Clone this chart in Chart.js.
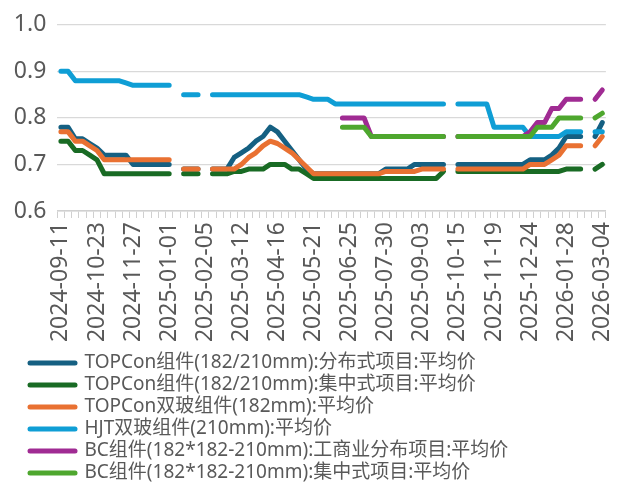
<!DOCTYPE html>
<html>
<head>
<meta charset="utf-8">
<script src="https://cdn.jsdelivr.net/npm/chart.js@4/dist/chart.umd.min.js"></script>
<style>
html, body { margin: 0; padding: 0; background: #fff; }
#grafico-precios { display: block; }
</style>
</head>
<body>
<canvas id="grafico-precios" width="634" height="484"></canvas>
<script>
'use strict';

// Fechas semanales (sin las semanas de fiesta nacional)
const fechas = [
    '2024-09-11', '2024-09-18', '2024-09-25', '2024-10-09', '2024-10-16', '2024-10-23', '2024-10-30', '2024-11-06', '2024-11-13', '2024-11-20',
    '2024-11-27', '2024-12-04', '2024-12-11', '2024-12-18', '2024-12-25', '2025-01-01', '2025-01-08', '2025-01-15', '2025-01-22', '2025-01-29',
    '2025-02-05', '2025-02-12', '2025-02-19', '2025-02-26', '2025-03-05', '2025-03-12', '2025-03-19', '2025-03-26', '2025-04-02', '2025-04-09',
    '2025-04-16', '2025-04-23', '2025-04-30', '2025-05-07', '2025-05-14', '2025-05-21', '2025-05-28', '2025-06-04', '2025-06-11', '2025-06-18',
    '2025-06-25', '2025-07-02', '2025-07-09', '2025-07-16', '2025-07-23', '2025-07-30', '2025-08-06', '2025-08-13', '2025-08-20', '2025-08-27',
    '2025-09-03', '2025-09-10', '2025-09-17', '2025-09-24', '2025-10-08', '2025-10-15', '2025-10-22', '2025-10-29', '2025-11-05', '2025-11-12',
    '2025-11-19', '2025-11-26', '2025-12-03', '2025-12-10', '2025-12-17', '2025-12-24', '2025-12-31', '2026-01-07', '2026-01-14', '2026-01-21',
    '2026-01-28', '2026-02-04', '2026-02-11', '2026-02-18', '2026-02-25', '2026-03-04'
];

const topconDistribuido = [
    0.78, 0.78, 0.755, 0.755, 0.745, 0.735, 0.72, 0.72, 0.72, 0.72,
    0.70, 0.70, 0.70, 0.70, 0.70, 0.70, null, 0.69, 0.69, 0.69,
    null, 0.69, 0.69, 0.69, 0.715, 0.725, 0.735, 0.75, 0.76, 0.78,
    0.77, 0.75, 0.73, 0.71, 0.69, 0.68, 0.68, 0.68, 0.68, 0.68,
    0.68, 0.68, 0.68, 0.68, 0.68, 0.69, 0.69, 0.69, 0.69, 0.70,
    0.70, 0.70, 0.70, 0.70, null, 0.70, 0.70, 0.70, 0.70, 0.70,
    0.70, 0.70, 0.70, 0.70, 0.70, 0.71, 0.71, 0.71, 0.72, 0.735,
    0.76, 0.76, 0.76, null, 0.76, 0.79
];

const topconCentralizado = [
    0.75, 0.75, 0.73, 0.73, 0.72, 0.71, 0.68, 0.68, 0.68, 0.68,
    0.68, 0.68, 0.68, 0.68, 0.68, 0.68, null, 0.68, 0.68, 0.68,
    null, 0.68, 0.68, 0.68, 0.685, 0.685, 0.69, 0.69, 0.69, 0.70,
    0.70, 0.70, 0.69, 0.69, 0.68, 0.67, 0.67, 0.67, 0.67, 0.67,
    0.67, 0.67, 0.67, 0.67, 0.67, 0.67, 0.67, 0.67, 0.67, 0.67,
    0.67, 0.67, 0.67, 0.685, null, 0.685, 0.685, 0.685, 0.685, 0.685,
    0.685, 0.685, 0.685, 0.685, 0.685, 0.685, 0.685, 0.685, 0.685, 0.685,
    0.69, 0.69, 0.69, null, 0.69, 0.70
];

const topconBifacial = [
    0.77, 0.77, 0.75, 0.75, 0.74, 0.73, 0.71, 0.71, 0.71, 0.71,
    0.71, 0.71, 0.71, 0.71, 0.71, 0.71, null, 0.69, 0.69, 0.69,
    null, 0.69, 0.69, 0.69, 0.69, 0.70, 0.715, 0.725, 0.74, 0.75,
    0.745, 0.735, 0.725, 0.71, 0.695, 0.68, 0.68, 0.68, 0.68, 0.68,
    0.68, 0.68, 0.68, 0.68, 0.68, 0.685, 0.685, 0.685, 0.685, 0.685,
    0.69, 0.69, 0.69, 0.69, null, 0.69, 0.69, 0.69, 0.69, 0.69,
    0.69, 0.69, 0.69, 0.69, 0.69, 0.70, 0.70, 0.70, 0.71, 0.72,
    0.74, 0.74, 0.74, null, 0.74, 0.76
];

const hjtBifacial = [
    0.90, 0.90, 0.88, 0.88, 0.88, 0.88, 0.88, 0.88, 0.88, 0.875,
    0.87, 0.87, 0.87, 0.87, 0.87, 0.87, null, 0.85, 0.85, 0.85,
    null, 0.85, 0.85, 0.85, 0.85, 0.85, 0.85, 0.85, 0.85, 0.85,
    0.85, 0.85, 0.85, 0.85, 0.845, 0.84, 0.84, 0.84, 0.83, 0.83,
    0.83, 0.83, 0.83, 0.83, 0.83, 0.83, 0.83, 0.83, 0.83, 0.83,
    0.83, 0.83, 0.83, 0.83, null, 0.83, 0.83, 0.83, 0.83, 0.83,
    0.78, 0.78, 0.78, 0.78, 0.78, 0.76, 0.76, 0.76, 0.76, 0.76,
    0.77, 0.77, 0.77, null, 0.77, 0.77
];

const bcComercial = [
    null, null, null, null, null, null, null, null, null, null,
    null, null, null, null, null, null, null, null, null, null,
    null, null, null, null, null, null, null, null, null, null,
    null, null, null, null, null, null, null, null, null, 0.80,
    0.80, 0.80, 0.80, 0.76, 0.76, 0.76, 0.76, 0.76, 0.76, 0.76,
    0.76, 0.76, 0.76, 0.76, null, 0.76, 0.76, 0.76, 0.76, 0.76,
    0.76, 0.76, 0.76, 0.76, 0.76, 0.77, 0.79, 0.79, 0.82, 0.82,
    0.84, 0.84, 0.84, null, 0.84, 0.86
];

const bcCentralizado = [
    null, null, null, null, null, null, null, null, null, null,
    null, null, null, null, null, null, null, null, null, null,
    null, null, null, null, null, null, null, null, null, null,
    null, null, null, null, null, null, null, null, null, 0.78,
    0.78, 0.78, 0.78, 0.76, 0.76, 0.76, 0.76, 0.76, 0.76, 0.76,
    0.76, 0.76, 0.76, 0.76, null, 0.76, 0.76, 0.76, 0.76, 0.76,
    0.76, 0.76, 0.76, 0.76, 0.76, 0.76, 0.78, 0.78, 0.78, 0.80,
    0.80, 0.80, 0.80, null, 0.80, 0.81
];

const series = [
    { label: 'TOPCon组件(182/210mm):分布式项目:平均价', datos: topconDistribuido, color: '#156082' },
    { label: 'TOPCon组件(182/210mm):集中式项目:平均价', datos: topconCentralizado, color: '#196B24' },
    { label: 'TOPCon双玻组件(182mm):平均价', datos: topconBifacial, color: '#E97132' },
    { label: 'HJT双玻组件(210mm):平均价', datos: hjtBifacial, color: '#0F9ED5' },
    { label: 'BC组件(182*182-210mm):工商业分布项目:平均价', datos: bcComercial, color: '#A02B93' },
    { label: 'BC组件(182*182-210mm):集中式项目:平均价', datos: bcCentralizado, color: '#4EA72E' }
];

const fuente = '"Noto Sans", "Noto Sans CJK SC", sans-serif';
const colorTexto = '#595959';

// Desplaza la leyenda a la derecha sin mover el eje Y
const moverLeyenda = {
    id: 'moverLeyenda',
    afterLayout(chart) {
        chart.legend.left = 27;
    }
};

const ctx = document.getElementById('grafico-precios').getContext('2d');

new Chart(ctx, {
    type: 'line',
    data: {
        labels: fechas,
        datasets: series.map((s, i) => ({
            label: s.label,
            data: s.datos,
            borderColor: s.color,
            backgroundColor: s.color,
            borderWidth: 5,
            borderCapStyle: 'round',
            borderJoinStyle: 'round',
            pointRadius: 0,
            pointHoverRadius: 0,
            fill: false,
            tension: 0,
            spanGaps: false,
            // las últimas series se dibujan encima, como en Excel
            order: series.length - i
        }))
    },
    plugins: [moverLeyenda],
    options: {
        responsive: false,
        animation: false,
        devicePixelRatio: 1,
        events: [],
        layout: { padding: { left: 6, right: 17, top: 14, bottom: -8.5 } },
        plugins: {
            tooltip: { enabled: false },
            legend: {
                position: 'bottom',
                align: 'start',
                labels: {
                    font: { family: fuente, size: 19 },
                    color: colorTexto,
                    padding: 3,
                    usePointStyle: true,
                    pointStyle: 'line',
                    pointStyleWidth: 45,
                    sort: (a, b) => a.datasetIndex - b.datasetIndex,
                    generateLabels: chart => Chart.defaults.plugins.legend.labels.generateLabels(chart).map(l => ({
                        ...l,
                        lineWidth: 5,
                        lineCap: 'round',
                        strokeStyle: chart.data.datasets[l.datasetIndex].borderColor
                    }))
                }
            }
        },
        scales: {
            x: {
                offset: true,
                grid: { offset: true, drawOnChartArea: false, drawTicks: true, tickLength: 7, color: '#d0d0d0', lineWidth: 1 },
                border: { display: true, color: '#d0d0d0', width: 1.5 },
                ticks: {
                    autoSkip: false,
                    maxRotation: 90,
                    minRotation: 90,
                    padding: 4,
                    color: colorTexto,
                    font: { family: fuente, size: 23 },
                    callback: function (valor, indice) {
                        return indice % 5 === 0 ? this.getLabelForValue(valor) : '';
                    }
                },
                afterFit: escala => { escala.height = 139.5; }
            },
            y: {
                min: 0.6,
                max: 1.0,
                grid: { color: '#d9d9d9', lineWidth: 1.3, drawTicks: false },
                border: { display: false },
                ticks: {
                    stepSize: 0.1,
                    padding: 11,
                    color: colorTexto,
                    font: { family: fuente, size: 23 },
                    callback: v => v.toFixed(1)
                },
                afterFit: escala => { escala.width = 51.3; }
            }
        }
    }
});
</script>
</body>
</html>
